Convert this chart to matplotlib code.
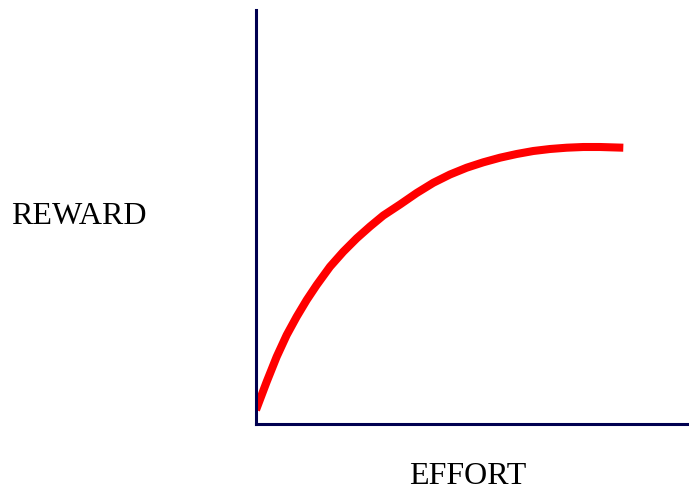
import matplotlib
matplotlib.use("Agg")
import matplotlib.pyplot as plt

# Curve values (effort vs reward, arbitrary units)
effort = [0, 10.7, 20.7, 30.7, 40.7, 50.7, 60.7, 74, 87.3, 100.7, 114, 127.3,
          144, 160.7, 177.3, 194, 210.7, 227.3, 244, 260.7, 277.3, 294,
          310.7, 327.3, 344, 367.3]
reward = [14, 42.3, 67.3, 89, 107.3, 124, 139, 157.3, 172.3, 185.7, 197.5, 208.5,
          219.5, 231, 241.2, 249.5, 256.3, 261.7, 266.3, 270, 273, 275,
          276.3, 277, 277, 276.3]

x_label = "EFFORT"
y_label = "REWARD"

fig = plt.figure(figsize=(6.89, 4.91), dpi=100)
ax = fig.add_axes([256/689, 1 - 424/491, (689-256)/689, (424-10)/491])
ax.plot(effort, reward, color="#ff0000", linewidth=5.8,
        solid_capstyle="butt", solid_joinstyle="round")
ax.set_xlim(0, 433)
ax.set_ylim(0, 414)
for s in ["top", "right"]:
    ax.spines[s].set_visible(False)
for s in ["left", "bottom"]:
    ax.spines[s].set_color("#000050")
    ax.spines[s].set_linewidth(2.2)
ax.set_xticks([])
ax.set_yticks([])
ax.patch.set_alpha(0)

fig.text(79/689, 1 - 216/491, y_label, family="Liberation Serif", fontsize=23,
         ha="center", va="center")
fig.text(468/689, 1 - 476/491, x_label, family="Liberation Serif", fontsize=23,
         ha="center", va="center")

fig.savefig("out.png", dpi=100)
